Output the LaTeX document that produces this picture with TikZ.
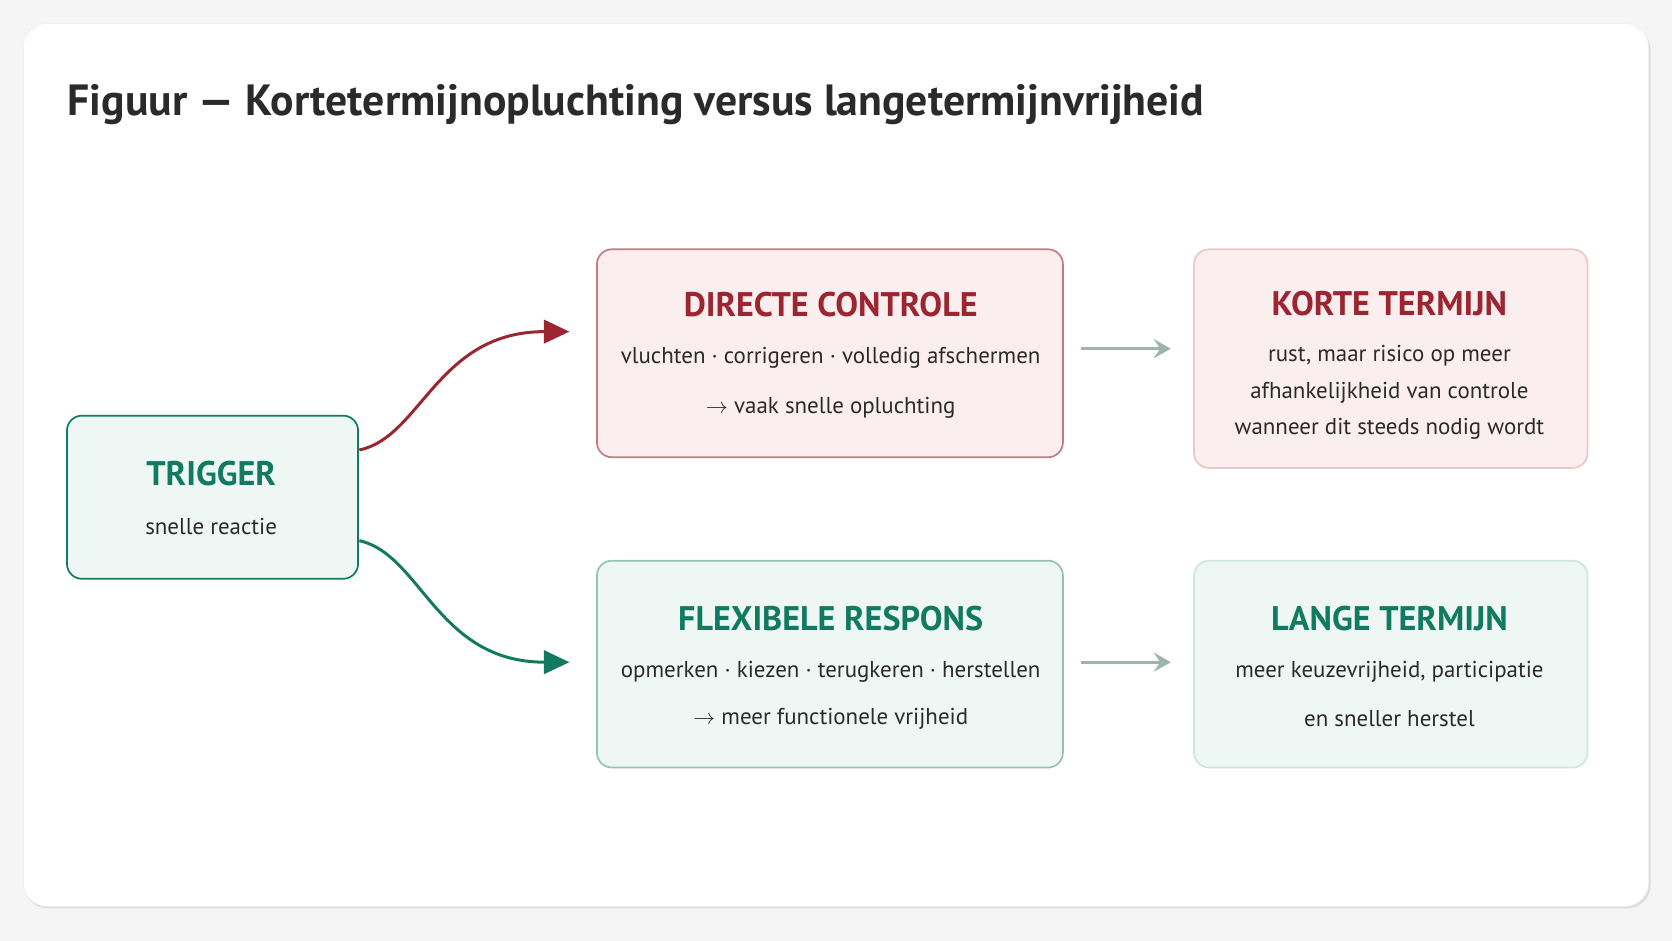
\documentclass[tikz,border=0pt]{standalone}
\usepackage{fontspec}
\setmainfont{PT Sans}
\usetikzlibrary{arrows.meta}
\definecolor{redT}{HTML}{9B2530}
\definecolor{greenT}{HTML}{137A62}
\definecolor{redF}{HTML}{FBEEEE}
\definecolor{greenF}{HTML}{EEF7F4}
\definecolor{greyA}{HTML}{9DB5AE}
\definecolor{ink}{HTML}{2A2A2A}
\tikzset{
  box/.style={draw, rounded corners=14pt, line width=1.6pt, anchor=north west, inner sep=0pt},
  head/.style={font=\bfseries\fontsize{32}{34}\selectfont},
  body/.style={font=\fontsize{21.5}{24}\selectfont, text=ink},
  link/.style={line width=2.8pt, -{Stealth[length=24pt,width=22pt,inset=0pt]}},
}
\begin{document}
\begin{tikzpicture}[x=1pt,y=-1pt]
  \useasboundingbox (0,0) rectangle (1568,882);
  \fill[gray!8] (0,0) rectangle (1568,882);
  % carte
  \fill[gray!25, rounded corners=22pt] (23,25) rectangle (1548,852);
  \filldraw[white, draw=gray!15, rounded corners=22pt] (22,22) rectangle (1546,850);
  \node[anchor=west, font=\bfseries\fontsize{41}{44}\selectfont, text=ink] (titel) at (60,98)
    {Figuur — Kortetermijnopluchting versus langetermijnvrijheid};

  % blokken
  \node[box, draw=greenT, fill=greenF, minimum width=273pt, minimum height=153pt] (trig) at (62,389) {};
  \node[box, draw=redT!60, fill=redF, minimum width=437pt, minimum height=195pt] (dc) at (559,233) {};
  \node[box, draw=redT!25, fill=redF, minimum width=369pt, minimum height=205pt] (kt) at (1119,233) {};
  \node[box, draw=greenT!45, fill=greenF, minimum width=437pt, minimum height=194pt] (fr) at (559,525) {};
  \node[box, draw=greenT!20, fill=greenF, minimum width=369pt, minimum height=194pt] (lt) at (1119,525) {};

  % teksten
  \node[head, text=greenT] (trigK) at (198,444) {TRIGGER};
  \node[body] (trigB) at (198,494) {snelle reactie};
  \node[head, text=redT] (dcK) at (779,286) {DIRECTE CONTROLE};
  \node[body] (dcB1) at (779,336) {vluchten · corrigeren · volledig afschermen};
  \node[body] (dcB2) at (779,382) {$\rightarrow$ vaak snelle opluchting};
  \node[head, text=redT] (ktK) at (1303,285) {KORTE TERMIJN};
  \node[body] (ktB1) at (1303,334) {rust, maar risico op meer};
  \node[body] (ktB2) at (1303,368) {afhankelijkheid van controle};
  \node[body] (ktB3) at (1303,402) {wanneer dit steeds nodig wordt};
  \node[head, text=greenT] (frK) at (779,580) {FLEXIBELE RESPONS};
  \node[body] (frB1) at (779,630) {opmerken · kiezen · terugkeren · herstellen};
  \node[body] (frB2) at (779,674) {$\rightarrow$ meer functionele vrijheid};
  \node[head, text=greenT] (ltK) at (1303,580) {LANGE TERMIJN};
  \node[body] (ltB1) at (1303,630) {meer keuzevrijheid, participatie};
  \node[body] (ltB2) at (1303,674) {en sneller herstel};

  % verbindingen
  \coordinate (a1) at (337,422);
  \coordinate (a2) at (534,311);
  \coordinate (b1) at (337,507);
  \coordinate (b2) at (534,621);
  \coordinate (c1) at (1014,327);
  \coordinate (c2) at (1098,327);
  \coordinate (d1) at (1014,621);
  \coordinate (d2) at (1098,621);
  \draw[link, redT] (a1) .. controls (395,410) and (410,311) .. (a2);
  \draw[link, greenT] (b1) .. controls (395,520) and (410,621) .. (b2);
  \draw[link, greyA, -{Stealth[length=16pt,width=18pt,inset=6pt]}] (c1) -- (c2);
  \draw[link, greyA, -{Stealth[length=16pt,width=18pt,inset=6pt]}] (d1) -- (d2);
\end{tikzpicture}
\end{document}
